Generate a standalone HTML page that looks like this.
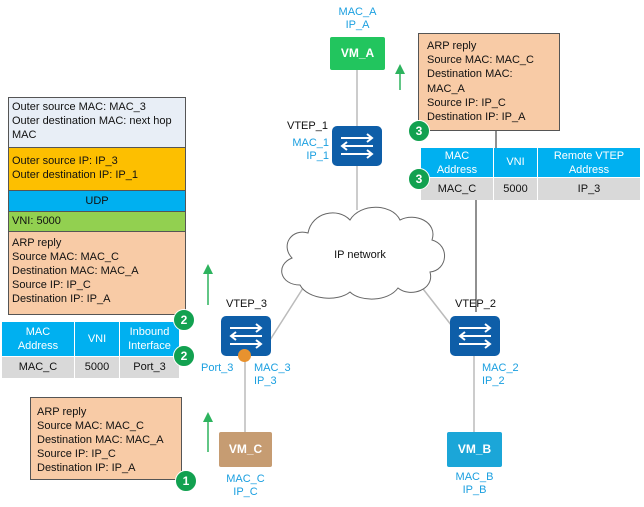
<!DOCTYPE html><html><head><style>
body{margin:0;width:644px;height:507px;background:#fff;font-family:"Liberation Sans",sans-serif;position:relative;overflow:hidden}
.a{position:absolute;box-sizing:border-box}
.t{font-size:11px;line-height:14px;color:#111}
.c{text-align:center}
.bl{color:#1a9fe0;font-size:11px;line-height:13px;position:absolute;text-align:center}
.badge{position:absolute;width:20px;height:20px;border-radius:50%;background:#12a150;color:#fff;font-size:12px;font-weight:bold;text-align:center;line-height:20px;border:1px solid #fff}
</style></head><body>
<svg class="a" style="left:0;top:0" width="644" height="507">
<g stroke="#bbb" stroke-width="1.5" fill="none">
<line x1="357" y1="70" x2="357" y2="210"/>
<line x1="270" y1="340" x2="305" y2="285"/>
<line x1="455" y1="330" x2="420" y2="285"/>
<line x1="245" y1="355" x2="245" y2="432"/>
<line x1="474" y1="355" x2="474" y2="432"/>
</g>
<line x1="496" y1="131" x2="496" y2="148" stroke="#222"/>
<line x1="476" y1="200" x2="476" y2="312" stroke="#222"/>
<path d="M300,285 C280,285 275,265 292,258 C280,245 292,228 308,233 C312,212 338,207 350,220 C360,203 392,203 400,220 C415,212 438,222 432,240 C450,245 448,270 430,272 C435,290 410,298 398,288 C388,302 360,302 350,292 C338,302 308,300 300,285 Z" fill="#fff" stroke="#666" stroke-width="1"/>
<g stroke="#2db35e" stroke-width="1.5" fill="#2db35e">
<line x1="400" y1="90" x2="400" y2="72"/><polygon points="395,74 405,74 400,64" stroke="none"/>
<line x1="208" y1="305" x2="208" y2="272"/><polygon points="203,274 213,274 208,264" stroke="none"/>
<line x1="208" y1="452" x2="208" y2="420"/><polygon points="203,422 213,422 208,412" stroke="none"/>
</g>
</svg>
<div class="a t c" style="top:248px;left:320px;width:80px">IP network</div>

<svg class="a" style="left:332px;top:126px" width="50" height="40"><rect width="50" height="40" rx="5" fill="#0e5ea8"/><g stroke="#fff" stroke-width="2" fill="none"><path d="M9,12H40M35,8L40,12L35,16M41,20H10M15,16L10,20L15,24M9,28H40M35,24L40,28L35,32"/></g></svg>
<svg class="a" style="left:221px;top:316px" width="50" height="40"><rect width="50" height="40" rx="5" fill="#0e5ea8"/><g stroke="#fff" stroke-width="2" fill="none"><path d="M9,12H40M35,8L40,12L35,16M41,20H10M15,16L10,20L15,24M9,28H40M35,24L40,28L35,32"/></g></svg>
<svg class="a" style="left:450px;top:316px" width="50" height="40"><rect width="50" height="40" rx="5" fill="#0e5ea8"/><g stroke="#fff" stroke-width="2" fill="none"><path d="M9,12H40M35,8L40,12L35,16M41,20H10M15,16L10,20L15,24M9,28H40M35,24L40,28L35,32"/></g></svg>
<div class="a" style="left:238px;top:349px;width:13px;height:13px;border-radius:50%;background:#e8922e"></div>

<div class="a t" style="left:287px;top:119px">VTEP_1</div>
<div class="bl" style="left:289px;top:137px;width:40px;text-align:right">MAC_1<br>IP_1</div>
<div class="a t" style="left:226px;top:297px">VTEP_3</div>
<div class="bl" style="left:201px;top:362px">Port_3</div>
<div class="bl" style="left:254px;top:362px;text-align:left">MAC_3<br>IP_3</div>
<div class="a t" style="left:455px;top:297px">VTEP_2</div>
<div class="bl" style="left:482px;top:362px;text-align:left">MAC_2<br>IP_2</div>

<div class="bl" style="left:330px;top:6px;width:55px">MAC_A<br>IP_A</div>
<div class="a c" style="left:330px;top:37px;width:55px;height:33px;background:#22c55e;color:#fff;font-weight:bold;font-size:12px;line-height:33px;border-radius:2px">VM_A</div>
<div class="a c" style="left:219px;top:432px;width:53px;height:35px;background:#c69c72;color:#fff;font-weight:bold;font-size:12px;line-height:35px;border-radius:2px">VM_C</div>
<div class="bl" style="left:219px;top:473px;width:53px">MAC_C<br>IP_C</div>
<div class="a c" style="left:447px;top:432px;width:55px;height:35px;background:#1ba6d8;color:#fff;font-weight:bold;font-size:12px;line-height:35px;border-radius:2px">VM_B</div>
<div class="bl" style="left:447px;top:471px;width:55px">MAC_B<br>IP_B</div>

<div class="a" style="left:8px;top:97px;width:178px;height:218px;border:1px solid #555"></div>
<div class="a t" style="left:9px;top:98px;width:176px;height:49px;background:#e8eef6;padding:2px 3px">Outer source MAC: MAC_3<br>Outer destination MAC: next hop MAC</div>
<div class="a t" style="left:9px;top:147px;width:176px;height:43px;background:#fdbf00;border-top:1px solid #555;padding:6px 3px 0">Outer source IP: IP_3<br>Outer destination IP: IP_1</div>
<div class="a t c" style="left:9px;top:190px;width:176px;height:21px;background:#00b0f0;border-top:1px solid #555;line-height:20px">UDP</div>
<div class="a t" style="left:9px;top:211px;width:176px;height:20px;background:#92d050;border-top:1px solid #555;line-height:19px;padding-left:3px">VNI: 5000</div>
<div class="a t" style="left:9px;top:231px;width:176px;height:83px;background:#f8cba6;border-top:1px solid #555;padding:4px 3px">ARP reply<br>Source MAC: MAC_C<br>Destination MAC: MAC_A<br>Source IP: IP_C<br>Destination IP: IP_A</div>

<div class="a t c" style="left:2px;top:322px;width:72px;height:34px;background:#00b0f0;color:#fff;padding-top:3px">MAC<br>Address</div>
<div class="a t c" style="left:75px;top:322px;width:44px;height:34px;background:#00b0f0;color:#fff;line-height:34px">VNI</div>
<div class="a t c" style="left:120px;top:322px;width:59px;height:34px;background:#00b0f0;color:#fff;padding-top:3px">Inbound<br>Interface</div>
<div class="a t c" style="left:2px;top:357px;width:72px;height:21px;background:#d9d9d9;line-height:21px">MAC_C</div>
<div class="a t c" style="left:75px;top:357px;width:44px;height:21px;background:#d9d9d9;line-height:21px">5000</div>
<div class="a t c" style="left:120px;top:357px;width:59px;height:21px;background:#d9d9d9;line-height:21px">Port_3</div>

<div class="a t" style="left:418px;top:33px;width:142px;height:98px;background:#f8cba6;border:1px solid #555;padding:5px 8px;line-height:14.2px">ARP reply<br>Source MAC: MAC_C<br>Destination MAC:<br>MAC_A<br>Source IP: IP_C<br>Destination IP: IP_A</div>
<div class="a t c" style="left:421px;top:148px;width:72px;height:29px;background:#00b0f0;color:#fff;padding-top:1px">MAC<br>Address</div>
<div class="a t c" style="left:494px;top:148px;width:43px;height:29px;background:#00b0f0;color:#fff;line-height:29px">VNI</div>
<div class="a t c" style="left:538px;top:148px;width:102px;height:29px;background:#00b0f0;color:#fff;padding-top:1px">Remote VTEP<br>Address</div>
<div class="a t c" style="left:421px;top:178px;width:72px;height:22px;background:#d9d9d9;line-height:22px">MAC_C</div>
<div class="a t c" style="left:494px;top:178px;width:43px;height:22px;background:#d9d9d9;line-height:22px">5000</div>
<div class="a t c" style="left:538px;top:178px;width:102px;height:22px;background:#d9d9d9;line-height:22px">IP_3</div>

<div class="a t" style="left:30px;top:397px;width:152px;height:83px;background:#f8cba6;border:1px solid #555;padding:7px 6px">ARP reply<br>Source MAC: MAC_C<br>Destination MAC: MAC_A<br>Source IP: IP_C<br>Destination IP: IP_A</div>

<div class="badge" style="left:173px;top:309px">2</div>
<div class="badge" style="left:173px;top:345px">2</div>
<div class="badge" style="left:408px;top:120px">3</div>
<div class="badge" style="left:408px;top:168px">3</div>
<div class="badge" style="left:175px;top:470px">1</div>
</body></html>
